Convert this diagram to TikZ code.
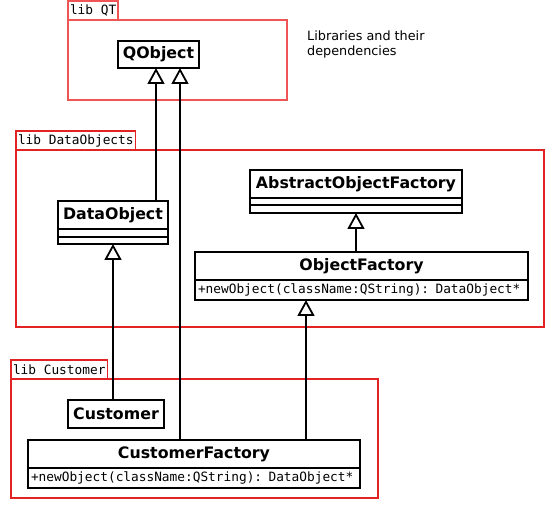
\documentclass[tikz,border=0pt]{standalone}
\usepackage{fontspec}
\setmainfont{DejaVu Sans}
\newfontfamily\monofont{DejaVu Sans Mono}
\usetikzlibrary{arrows.meta}
\definecolor{qtred}{RGB}{240,85,85}
\definecolor{pkgred}{RGB}{225,35,35}
\begin{document}
\begin{tikzpicture}[x=1pt,y=-1pt,
  box/.style={draw=black, line width=1.8pt, inner sep=0pt, outer sep=0pt, fill=white},
  hdr/.style={box, font=\fontsize{15.8}{18}\selectfont\bfseries, minimum height=28, anchor=north west},
  cmp/.style={box, anchor=north west},
  ops/.style={box, font=\monofont\fontsize{12.8}{15}\selectfont, minimum height=20, anchor=north west, align=left, inner xsep=3pt},
  pkg/.style={draw=#1, line width=1.8pt, inner sep=0pt, outer sep=0pt, anchor=north west},
  tab/.style={draw=#1, line width=1.8pt, inner xsep=2pt, inner ysep=0pt, outer sep=0pt, minimum height=19, anchor=south west, font=\monofont\fontsize{12.8}{15}\selectfont},
  inh/.style={line width=1.8pt, -{Triangle[open, length=16pt, width=17pt, fill=white]}},
  note/.style={font=\fontsize{12.8}{15}\selectfont, align=left, inner sep=0pt, anchor=north west}
]
\useasboundingbox (0,0) rectangle (547,526);

% packages
\node[pkg=qtred, minimum width=219, minimum height=80] (pqt) at (68,20) {};
\node[tab=qtred] (tqt) at (pqt.north west) {lib QT};
\node[pkg=pkgred, minimum width=528, minimum height=177] (pdo) at (16,150) {};
\node[tab=pkgred] (tdo) at (pdo.north west) {lib DataObjects};
\node[pkg=pkgred, minimum width=367, minimum height=119] (pcu) at (11,379) {};
\node[tab=pkgred] (tcu) at (pcu.north west) {lib Customer};

\node[note] (note) at (307,31) {Libraries and their\\dependencies};

% classes
\node[hdr, minimum width=81, minimum height=27] (qobject) at (118,41) {QObject};

\node[hdr, minimum width=110] (dataobj) at (58,201) {DataObject};
\node[cmp, minimum width=110, minimum height=8] (dataobj2) at (dataobj.south west) {};
\node[cmp, minimum width=110, minimum height=7] (dataobj3) at (dataobj2.south west) {};

\node[hdr, minimum width=212] (abstract) at (250,170) {AbstractObjectFactory};
\node[cmp, minimum width=212, minimum height=7] (abstract2) at (abstract.south west) {};
\node[cmp, minimum width=212, minimum height=8] (abstract3) at (abstract2.south west) {};

\node[hdr, minimum width=333] (objfac) at (195,252) {ObjectFactory};
\node[ops, text width=327] (objfacops) at (objfac.south west) {+newObject(className:QString): DataObject*};

\node[hdr, minimum width=96] (customer) at (68,400) {Customer};

\node[hdr, minimum width=332] (custfac) at (28,440) {CustomerFactory};
\node[ops, text width=326] (custfacops) at (custfac.south west) {+newObject(className:QString): DataObject*};

% connectors
\coordinate (xa) at (156,0);
\coordinate (xb) at (180,0);
\coordinate (xc) at (113,0);
\coordinate (xd) at (356,0);
\coordinate (xe) at (306,0);
\draw[inh] (dataobj.north -| xa) -- (qobject.south -| xa);
\draw[inh] (custfac.north -| xb) -- (qobject.south -| xb);
\draw[inh] (customer.north -| xc) -- (dataobj3.south -| xc);
\draw[inh] (objfac.north -| xd) -- (abstract3.south -| xd);
\draw[inh] (custfac.north -| xe) -- (objfacops.south -| xe);
\end{tikzpicture}
\end{document}
